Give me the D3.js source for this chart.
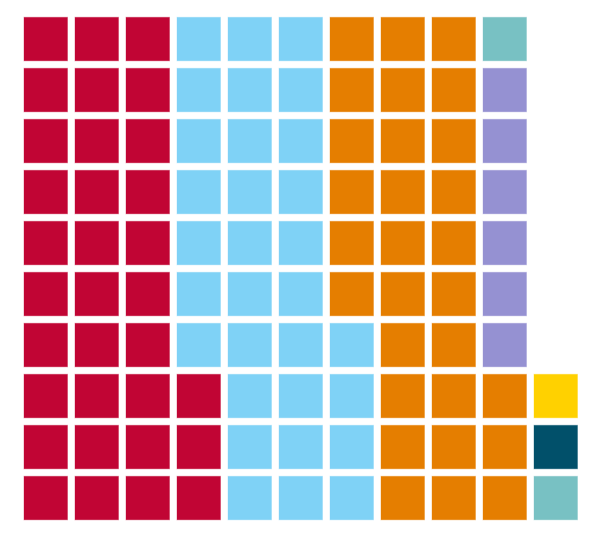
<!DOCTYPE html>
<html>
<head>
<meta charset="utf-8">
<script src="https://cdn.jsdelivr.net/npm/d3@7"></script>
<style>
  html, body { margin: 0; padding: 0; background: #fff; }
  svg { display: block; }
</style>
</head>
<body>
<svg id="chart" width="600" height="538"></svg>
<script>
const categories = ["Red", "Light blue", "Orange", "Purple", "Teal", "Dark blue", "Yellow"];
const seatCounts = [33, 31, 29, 6, 2, 1, 1];
const seatColors = ["#c10534", "#7fd2f6", "#e57e00", "#9591d2", "#78c1c3", "#01506a", "#ffd100"];
const rowsPerColumn = 10;

// Expand into one cell per seat, filled column by column from the bottom
const cells = [];
categories.forEach((c, i) => {
  for (let k = 0; k < seatCounts[i]; k++) cells.push({ cat: c, color: seatColors[i] });
});
cells.forEach((d, i) => {
  d.col = Math.floor(i / rowsPerColumn);
  d.row = rowsPerColumn - 1 - (i % rowsPerColumn);
});
const nCols = Math.ceil(cells.length / rowsPerColumn);

const x = d3.scaleBand()
  .domain(d3.range(nCols))
  .range([24, 577.5])
  .paddingInner(7.5 / 51)
  .paddingOuter(0);
const y = d3.scaleBand()
  .domain(d3.range(rowsPerColumn))
  .range([17.3, 519.8])
  .paddingInner(7.5 / 51)
  .paddingOuter(0);

d3.select("#chart").selectAll("rect")
  .data(cells)
  .join("rect")
  .attr("x", d => x(d.col))
  .attr("y", d => y(d.row))
  .attr("width", x.bandwidth())
  .attr("height", y.bandwidth())
  .attr("fill", d => d.color)
  .attr("stroke", d => d.color)
  .attr("stroke-opacity", 0.35)
  .attr("stroke-width", 1);
</script>
</body>
</html>
